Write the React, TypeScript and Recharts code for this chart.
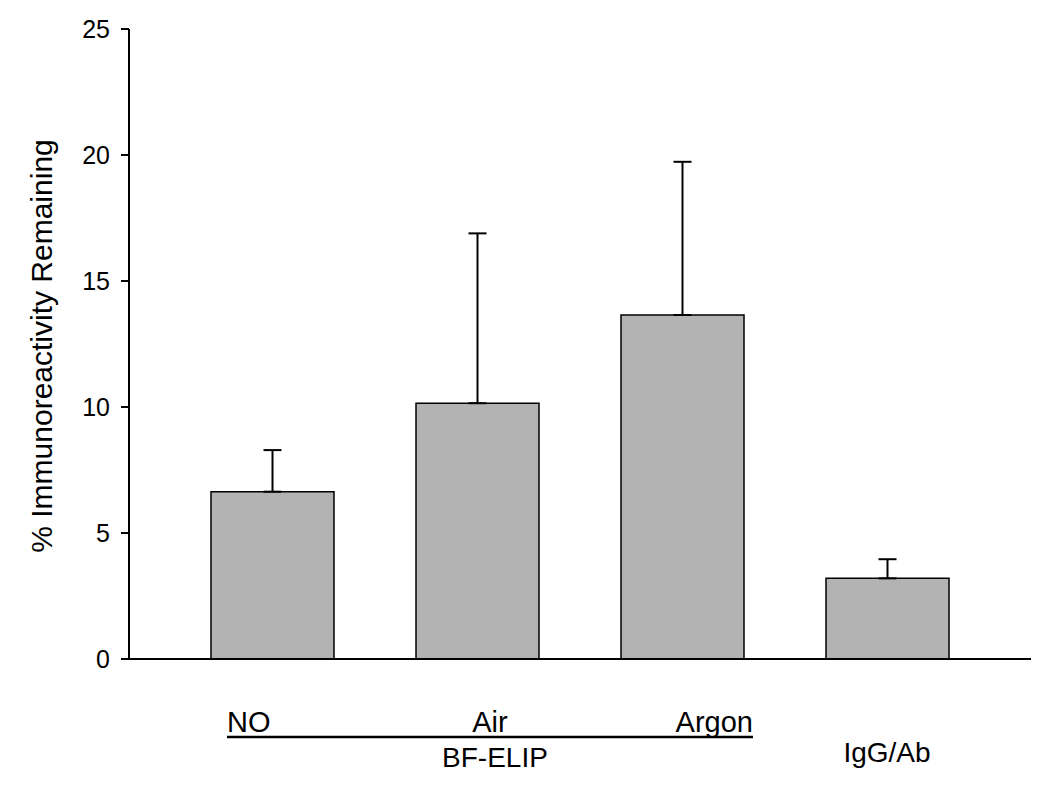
import { Bar, BarChart, ErrorBar, XAxis, YAxis } from 'recharts';

const categories = ['NO', 'Air', 'Argon', 'IgG/Ab'];
const means = [6.64, 10.15, 13.65, 3.2];
// only the upper whisker is drawn in the figure
const upperErr = [1.65, 6.74, 6.08, 0.76];
const yTicks = [0, 5, 10, 15, 20, 25];

const FONT = '"Liberation Sans", Arial, sans-serif';

const data = categories.map((c, i) => ({
  name: c,
  value: means[i],
  err: [0, upperErr[i]],
}));

export default function App() {
  return (
    <div style={{ position: 'relative', width: 1040, height: 780, fontFamily: FONT }}>
      <BarChart
        width={1040}
        height={780}
        data={data}
        margin={{ top: 21, right: 17, left: 0, bottom: 9 }}
      >
        <XAxis
          dataKey="name"
          tick={false}
          tickLine={false}
          height={120}
          padding={{ left: 41, right: 41 }}
          axisLine={{ stroke: '#000', strokeWidth: 2 }}
        />
        <YAxis
          width={121}
          domain={[0, 25]}
          ticks={yTicks}
          tickSize={8}
          tickMargin={11}
          axisLine={{ stroke: '#000', strokeWidth: 2 }}
          tickLine={{ stroke: '#000', strokeWidth: 2 }}
          tick={{ fill: '#000', fontSize: 25, fontFamily: FONT }}
        />
        <Bar
          dataKey="value"
          barSize={123}
          fill="#b3b3b3"
          stroke="#000"
          strokeWidth={1.5}
          isAnimationActive={false}
        >
          <ErrorBar dataKey="err" direction="y" width={9} stroke="#000" strokeWidth={2} />
        </Bar>
      </BarChart>
      <svg
        width={1040}
        height={780}
        style={{ position: 'absolute', left: 0, top: 0, pointerEvents: 'none' }}
        fontFamily={FONT}
      >
        <text
          transform="translate(44, 338) rotate(-90)"
          textAnchor="middle"
          fontSize={30}
          fill="#000"
        >
          % Immunoreactivity Remaining
        </text>
        <text x={219} y={724} fontSize={29} fill="#000">NO</text>
        <text x={482} y={724} fontSize={29} fill="#000" textAnchor="middle">Air</text>
        <text x={745} y={724} fontSize={29} fill="#000" textAnchor="end">Argon</text>
        <line x1={219} x2={745} y1={729} y2={729} stroke="#000" strokeWidth={2.5} />
        <text x={487} y={759} fontSize={28} fill="#000" textAnchor="middle">BF-ELIP</text>
        <text x={879} y={754} fontSize={28} fill="#000" textAnchor="middle">IgG/Ab</text>
      </svg>
    </div>
  );
}
